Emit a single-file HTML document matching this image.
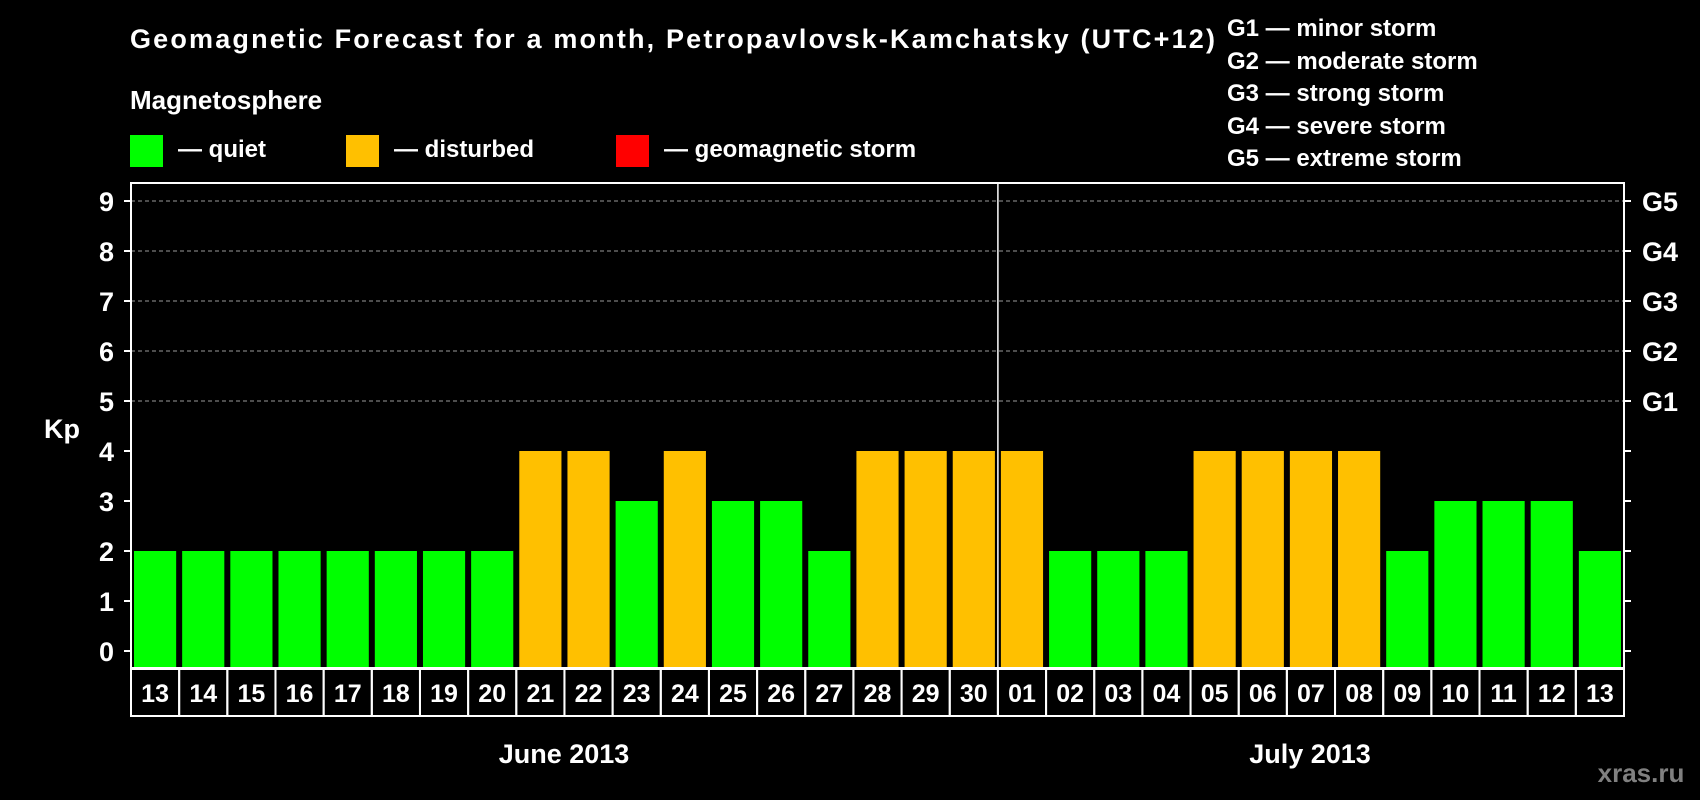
<!DOCTYPE html>
<html><head><meta charset="utf-8"><style>
html,body{margin:0;padding:0;background:#000;width:1700px;height:800px;overflow:hidden}
svg{display:block}
text{font-family:"Liberation Sans",Arial,sans-serif;font-weight:bold;fill:#fff}
</style></head><body>
<svg id="chart" width="1700" height="800">
<text x="130" y="48" font-size="27" textLength="1085">Geomagnetic Forecast for a month, Petropavlovsk-Kamchatsky (UTC+12)</text>
<text x="130" y="109" font-size="26">Magnetosphere</text>
<g><rect x="130" y="135" width="33" height="32" fill="#00ff00"/><text x="178" y="157" font-size="24">— quiet</text></g>
<g><rect x="346" y="135" width="33" height="32" fill="#ffc000"/><text x="394" y="157" font-size="24">— disturbed</text></g>
<g><rect x="616" y="135" width="33" height="32" fill="#ff0000"/><text x="664" y="157" font-size="24">— geomagnetic storm</text></g>
<g font-size="24">
<text x="1227" y="36">G1 — minor storm</text>
<text x="1227" y="69">G2 — moderate storm</text>
<text x="1227" y="101">G3 — strong storm</text>
<text x="1227" y="134">G4 — severe storm</text>
<text x="1227" y="166">G5 — extreme storm</text>
</g>
<text x="62" y="438" font-size="27" text-anchor="middle">Kp</text>
<text x="564" y="763" font-size="27" text-anchor="middle">June 2013</text>
<text x="1310" y="763" font-size="27" text-anchor="middle">July 2013</text>
<text x="1641" y="782" font-size="26" text-anchor="middle" style="fill:#808080">xras.ru</text>
<g id="plot"></g>
</svg>
<script>
const days = ["13","14","15","16","17","18","19","20","21","22","23","24","25","26","27","28","29","30","01","02","03","04","05","06","07","08","09","10","11","12","13"];
const kpValues = [2,2,2,2,2,2,2,2,4,4,3,4,3,3,2,4,4,4,4,2,2,2,4,4,4,4,2,3,3,3,2];
const yTicks = [0,1,2,3,4,5,6,7,8,9];
const gLabels = ["G1","G2","G3","G4","G5"];
const gLevels = [5,6,7,8,9];
const monthSplitIndex = 18;

const NS = "http://www.w3.org/2000/svg";
const L = 131, R = 1624, T = 183, B = 668;
const cw = (R - L) / days.length;
function x(i){ return L + i * cw; }
function y(v){ return 651 - v * 50; }
const g = document.getElementById('plot');
function mk(tag, attrs, parent){ const e = document.createElementNS(NS, tag); for (const k in attrs) e.setAttribute(k, attrs[k]); (parent||g).appendChild(e); return e; }
function color(v){ return v >= 5 ? "#ff0000" : (v >= 4 ? "#ffc000" : "#00ff00"); }

// grid
yTicks.forEach(v => {
  if (v >= 5) {
    const ln = mk('line', {x1:L, x2:R, y1:y(v), y2:y(v), stroke:'#9a9a9a', 'stroke-width':1, 'stroke-dasharray':'4 3'});
    
    
  }
  const tl = mk('line', {x1:L-7, x2:L, y1:y(v), y2:y(v), stroke:'#fff', 'stroke-width':2});
  
  
  const tr = mk('line', {x1:R, x2:R+7, y1:y(v), y2:y(v), stroke:'#fff', 'stroke-width':2});
  
  
  const t = mk('text', {x:114, y:y(v)+10, 'font-size':27, 'text-anchor':'end'});
  t.textContent = v;
  
  
});
gLabels.forEach((s, i) => {
  const t = mk('text', {x:1660, y:y(gLevels[i])+10, 'font-size':27, 'text-anchor':'middle'});
  t.textContent = s;
  
  
});
// bars
kpValues.forEach((v, i) => {
  const b = mk('rect', {x:x(i)+3, y:y(v), width:cw-6, height:B - y(v), fill:color(v)});
  
  
});
// plot frame
const fr = mk('rect', {x:L, y:T, width:R-L, height:B-T, fill:'none', stroke:'#fff', 'stroke-width':2});


const sp = mk('line', {x1:x(monthSplitIndex), x2:x(monthSplitIndex), y1:T, y2:B, stroke:'#fff', 'stroke-width':1.5});


// date boxes
days.forEach((d, i) => {
  const r = mk('rect', {x:x(i), y:669, width:cw, height:47, fill:'none', stroke:'#fff', 'stroke-width':2});
  
  
  const t = mk('text', {x:x(i)+cw/2, y:702, 'font-size':25, 'text-anchor':'middle'});
  t.textContent = d;
  
  
});
</script>
</body></html>
